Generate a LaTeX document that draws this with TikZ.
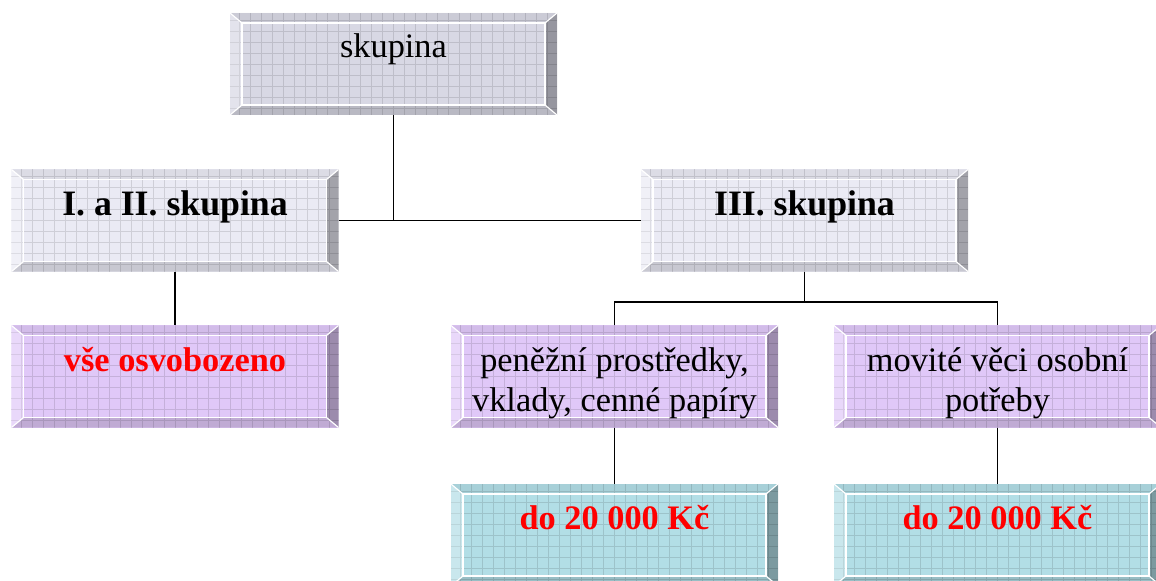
\documentclass[tikz,border=0pt]{standalone}
\usepackage{fontspec}
\setmainfont{Liberation Serif}
\usetikzlibrary{calc}
\definecolor{boxGray}{RGB}{216, 216, 228}
\definecolor{boxLight}{RGB}{234, 234, 244}
\definecolor{boxViolet}{RGB}{224, 200, 248}
\definecolor{boxCyan}{RGB}{178, 222, 230}
\definecolor{moneyRed}{RGB}{255, 0, 0}

\begin{document}
\begin{tikzpicture}[
  x=0.03cm,y=0.03cm,
  every node/.style={align=center},
  bevel/.style={minimum width=9.81cm, minimum height=3.06cm, inner sep=0pt,
    path picture={
      \path (path picture bounding box.south west) coordinate (sw)
            (path picture bounding box.north east) coordinate (ne);
      \fill[#1] (sw) rectangle (ne);
      \draw[#1!88!black, line width=.3pt, step=.33cm] (sw) grid (ne);
      \coordinate (isw) at ($(sw)+(12,10)$);
      \coordinate (ine) at ($(ne)+(-12,-10)$);
      % bevel faces
      \fill[black, opacity=.06] (sw |- ne) -- (ne) -- (ine) -- (isw |- ine) -- cycle;
      \fill[black, opacity=.30] (ne) -- (ne |- sw) -- (ine |- isw) -- (ine) -- cycle;
      \fill[black, opacity=.14] (sw) -- (ne |- sw) -- (ine |- isw) -- (isw) -- cycle;
      \fill[white, opacity=.30] (sw) -- (sw |- ne) -- (isw |- ine) -- (isw) -- cycle;
      \draw[white, line width=1.2pt] (isw) rectangle (ine);
      \draw[white, line width=1pt] (sw) -- (isw) (sw |- ne) -- (isw |- ine)
        (ne) -- (ine) (ne |- sw) -- (ine |- isw);
    }},
  txt/.style={font=\fontsize{29.3}{34}\selectfont, anchor=base},
  head/.style={txt, font=\fontsize{30.5}{34}\selectfont\bfseries},
  sum/.style={txt, font=\fontsize{29.3}{34}\selectfont\bfseries, text=moneyRed},
  link/.style={line width=1.4pt}
]
\useasboundingbox (0,0) rectangle (1156,580);
\clip (0,0) rectangle (1156,580);

% boxes
\node[bevel=boxGray] (skup) at (393.5,516) {};
\node[bevel=boxLight] (skup12) at (175,359.5) {};
\node[bevel=boxLight] (skup3) at (804.5,359.5) {};
\node[bevel=boxViolet] (osvob) at (175,203.5) {};
\node[bevel=boxViolet] (penize) at (614.5,203.5) {};
\node[bevel=boxViolet] (movite) at (997.5,203.5) {};
\node[bevel=boxCyan] (limit1) at (614.5,45) {};
\node[bevel=boxCyan] (limit2) at (997.5,45) {};

% texts (two-line texts sit on their last baseline)
\node[txt] (skup-t) at ($(skup.north)+(0,-45)$) {skupina};
\node[head] (skup12-t) at ($(skup12.north)+(0,-46)$) {I. a II. skupina};
\node[head] (skup3-t) at ($(skup3.north)+(0,-46)$) {III. skupina};
\node[sum] (osvob-t) at ($(osvob.north)+(0,-46)$) {vše osvobozeno};
\node[txt] (penize-t) at ($(penize.north)+(0,-86)$) {peněžní prostředky,\\vklady, cenné papíry};
\node[txt] (movite-t) at ($(movite.north)+(0,-86)$) {movité věci osobní\\potřeby};
\node[sum] (limit1-t) at ($(limit1.north)+(0,-46)$) {do 20 000 Kč};
\node[sum] (limit2-t) at ($(limit2.north)+(0,-46)$) {do 20 000 Kč};

% connectors
\draw[link] (skup12.east) -- (skup3.west);
\draw[link] (skup.south) -- (skup.south |- skup12.east);
\draw[link] (skup12.south) -- (osvob.north);
\coordinate (fork) at ($(skup3.south)+(0,-30)$);
\draw[link] (skup3.south) -- (fork);
\draw[link] (penize.north) |- (fork) -| (movite.north);
\draw[link] (penize.south) -- (limit1.north);
\draw[link] (movite.south) -- (limit2.north);
\end{tikzpicture}
\end{document}
